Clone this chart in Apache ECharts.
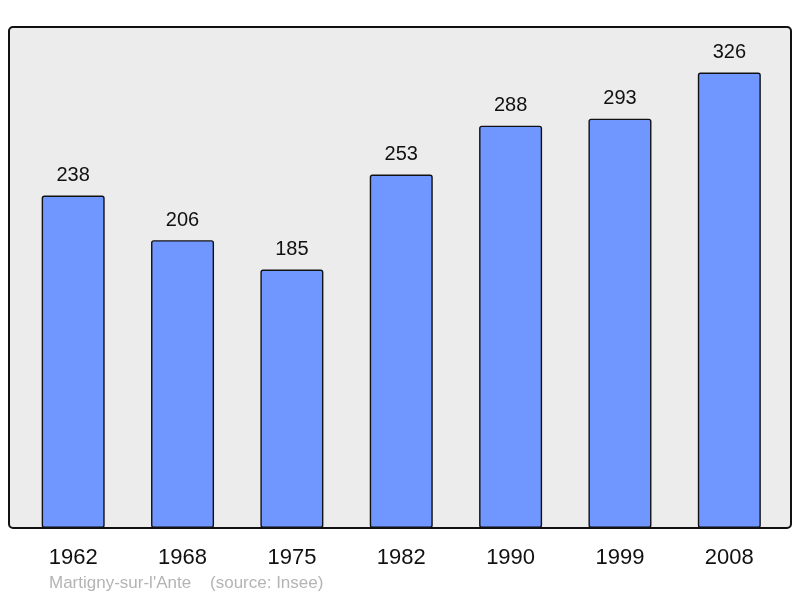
<!DOCTYPE html>
<html><head><meta charset="utf-8">
<script src="https://cdn.jsdelivr.net/npm/echarts@6/dist/echarts.min.js"></script>
<style>html,body{margin:0;padding:0;background:#fff}#c{width:800px;height:598px}</style>
</head><body><div id="c"></div>
<script>
const years = ['1962','1968','1975','1982','1990','1999','2008'];
const population = [238,206,185,253,288,293,326];
const footerText = "Martigny-sur-l'Ante    (source: Insee)";

const chart = echarts.init(document.getElementById('c'), null, {renderer:'canvas'});
chart.setOption({
  animation:false,
  textStyle:{fontFamily:'Liberation Sans, Arial, sans-serif'},
  grid:{left:18.5, right:16, top:27, bottom:70},
  graphic:[
    {type:'rect', z:-10, shape:{x:9, y:27, width:782, height:501, r:4},
     style:{fill:'#ececec', stroke:'#111', lineWidth:2}},
    {type:'text', left:49, top:575, style:{text:footerText, fill:'#b4b4b4', font:'17px Liberation Sans, Arial, sans-serif'}}
  ],
  xAxis:{type:'category', data:years, axisLine:{show:false}, axisTick:{show:false},
    axisLabel:{color:'#111', fontSize:22, margin:19}},
  yAxis:{type:'value', min:0, max:358.6, show:false, splitLine:{show:false}},
  series:[{type:'bar', data:population, barWidth:63,
    itemStyle:{color:'#7096ff', borderColor:'#111', borderWidth:1.4, borderRadius:2},
    label:{show:true, position:'top', distance:10, color:'#111', fontSize:20}}]
});
</script></body></html>
